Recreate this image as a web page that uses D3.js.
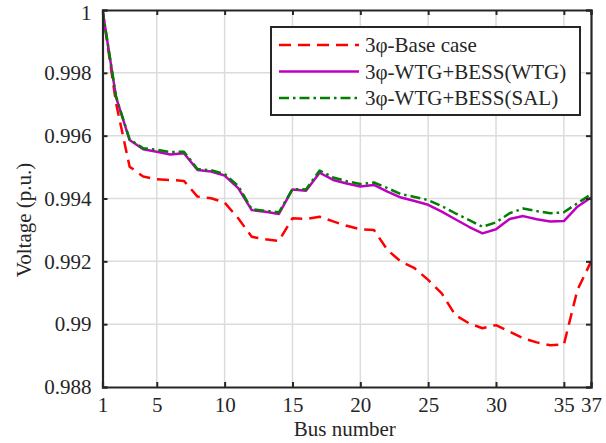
<!DOCTYPE html>
<html>
<head>
<meta charset="utf-8">
<script src="https://cdn.jsdelivr.net/npm/d3@7"></script>
<style>
  body { margin: 0; background: white; }
  svg text { font-family: "Liberation Serif", "Times New Roman", serif; fill: #262626; }
</style>
</head>
<body>
<div id="chart"></div>
<script>
var width = 606, height = 443;
var margin = {left: 102.5, right: 15, top: 10, bottom: 56};

// data
var buses = d3.range(1, 38);
var baseCase = [1.0, 0.99703, 0.99501, 0.9947, 0.99461, 0.99459, 0.99456, 0.99406, 0.99401, 0.99387,
  0.99337, 0.99278, 0.9927, 0.99265, 0.99337, 0.99335, 0.99342, 0.99327, 0.99313, 0.99302,
  0.993, 0.99236, 0.99199, 0.99178, 0.99141, 0.99098, 0.99029, 0.99003, 0.98987, 0.98997,
  0.98976, 0.98955, 0.98942, 0.98933, 0.98935, 0.99109, 0.99199];
var wtgCase = [1.0, 0.99722, 0.99586, 0.99557, 0.99549, 0.9954, 0.99544, 0.99491, 0.99486, 0.99473,
  0.99433, 0.99363, 0.99358, 0.99351, 0.99429, 0.99425, 0.99482, 0.99459, 0.99448, 0.99438,
  0.99443, 0.99422, 0.99403, 0.99392, 0.9938, 0.99358, 0.99334, 0.9931, 0.99289, 0.99302,
  0.99335, 0.99344, 0.99334, 0.99327, 0.99328, 0.99374, 0.99403];
var salCase = [1.0, 0.99724, 0.99588, 0.9956, 0.99555, 0.99548, 0.99549, 0.99494, 0.9949, 0.99478,
  0.9944, 0.99366, 0.99361, 0.99356, 0.9943, 0.99429, 0.99489, 0.99467, 0.99455, 0.99446,
  0.99451, 0.99433, 0.99414, 0.99405, 0.99395, 0.99376, 0.99353, 0.99332, 0.9931, 0.99324,
  0.99353, 0.99368, 0.9936, 0.99353, 0.99356, 0.99385, 0.99413];
var xTicks = [1, 5, 10, 15, 20, 25, 30, 35, 37];
var yTicks = [0.988, 0.99, 0.992, 0.994, 0.996, 0.998, 1];
var seriesNames = ["3\u03c6-Base case", "3\u03c6-WTG+BESS(WTG)", "3\u03c6-WTG+BESS(SAL)"];

var series = [
  {name: seriesNames[0], values: baseCase, color: "#ff0000", dash: "12,7"},
  {name: seriesNames[1], values: wtgCase, color: "#c000c0", dash: null},
  {name: seriesNames[2], values: salCase, color: "#007f00", dash: "10,4,2.5,4"}
];

var svg = d3.select("#chart").append("svg")
  .attr("width", width).attr("height", height);

var x = d3.scaleLinear().domain([1, 37]).range([margin.left, width - margin.right]);
var y = d3.scaleLinear().domain([0.988, 1]).range([height - margin.bottom, margin.top]);

var x0 = x.range()[0], x1 = x.range()[1], y0 = y.range()[0], y1 = y.range()[1];

// grid
svg.append("g").selectAll("line.gx")
  .data(xTicks.filter(function(d) { return d != 1 && d != 37; }))
  .enter().append("line")
  .attr("x1", function(d) { return x(d); }).attr("x2", function(d) { return x(d); })
  .attr("y1", y0).attr("y2", y1)
  .attr("stroke", "#dcdcdc").attr("stroke-width", 1.5);
svg.append("g").selectAll("line.gy")
  .data(yTicks.filter(function(d) { return d != 0.988 && d != 1; }))
  .enter().append("line")
  .attr("x1", x0).attr("x2", x1)
  .attr("y1", function(d) { return y(d); }).attr("y2", function(d) { return y(d); })
  .attr("stroke", "#dcdcdc").attr("stroke-width", 1.5);

// lines
var line = d3.line()
  .x(function(d, i) { return x(buses[i]); })
  .y(function(d) { return y(d); });

svg.append("clipPath").attr("id", "clip").append("rect")
  .attr("x", x0).attr("y", y1).attr("width", x1 - x0).attr("height", y0 - y1);

series.forEach(function(s) {
  svg.append("path")
    .datum(s.values)
    .attr("d", line)
    .attr("fill", "none")
    .attr("stroke", s.color)
    .attr("stroke-width", 2.5)
    .attr("stroke-dasharray", s.dash)
    .attr("stroke-linejoin", "round")
    .attr("clip-path", "url(#clip)");
});

// axes
var fmtY = function(d) { return d == 1 ? "1" : String(+d.toFixed(3)); };

var xAxis = svg.append("g").attr("transform", "translate(0," + y0 + ")")
  .call(d3.axisBottom(x).tickValues(xTicks).tickSize(-5).tickPadding(10));
var xAxisTop = svg.append("g").attr("transform", "translate(0," + y1 + ")")
  .call(d3.axisTop(x).tickValues(xTicks).tickSize(-5).tickFormat(""));
var yAxis = svg.append("g").attr("transform", "translate(" + x0 + ",0)")
  .call(d3.axisLeft(y).tickValues(yTicks).tickSize(-5).tickPadding(11).tickFormat(fmtY));
var yAxisRight = svg.append("g").attr("transform", "translate(" + x1 + ",0)")
  .call(d3.axisRight(y).tickValues(yTicks).tickSize(-5).tickFormat(""));

[xAxis, xAxisTop, yAxis, yAxisRight].forEach(function(g) {
  g.select(".domain").attr("stroke", "#262626").attr("stroke-width", 2.2);
  g.selectAll(".tick line").attr("stroke", "#262626").attr("stroke-width", 2);
  g.selectAll(".tick text").attr("font-family", "Liberation Serif").attr("font-size", 21).attr("fill", "#262626");
});
xAxis.selectAll(".tick text").attr("dy", "0.71em");
// top label "1" sits a touch lower, as in the reference
yAxis.selectAll(".tick text").filter(function(d) { return d == 1; }).attr("dy", "0.45em");

// axis titles
svg.append("text")
  .attr("x", (x0 + x1) / 2 - 2).attr("y", 436)
  .attr("text-anchor", "middle").attr("font-size", 21)
  .text("Bus number");
svg.append("text")
  .attr("transform", "translate(31,220) rotate(-90)")
  .attr("text-anchor", "middle").attr("font-size", 21)
  .text("Voltage (p.u.)");

// legend
var lg = svg.append("g").attr("transform", "translate(271,27)");
lg.append("rect")
  .attr("width", 309).attr("height", 88)
  .attr("fill", "white").attr("stroke", "#262626").attr("stroke-width", 2);
series.forEach(function(s, i) {
  var ly = 18 + i * 26.5;
  lg.append("line")
    .attr("x1", 8).attr("x2", 88).attr("y1", ly).attr("y2", ly)
    .attr("stroke", s.color).attr("stroke-width", 2.5)
    .attr("stroke-dasharray", s.dash);
  lg.append("text")
    .attr("x", 94).attr("y", ly + 7)
    .attr("font-size", 21)
    .text(s.name);
});
</script>
</body>
</html>
